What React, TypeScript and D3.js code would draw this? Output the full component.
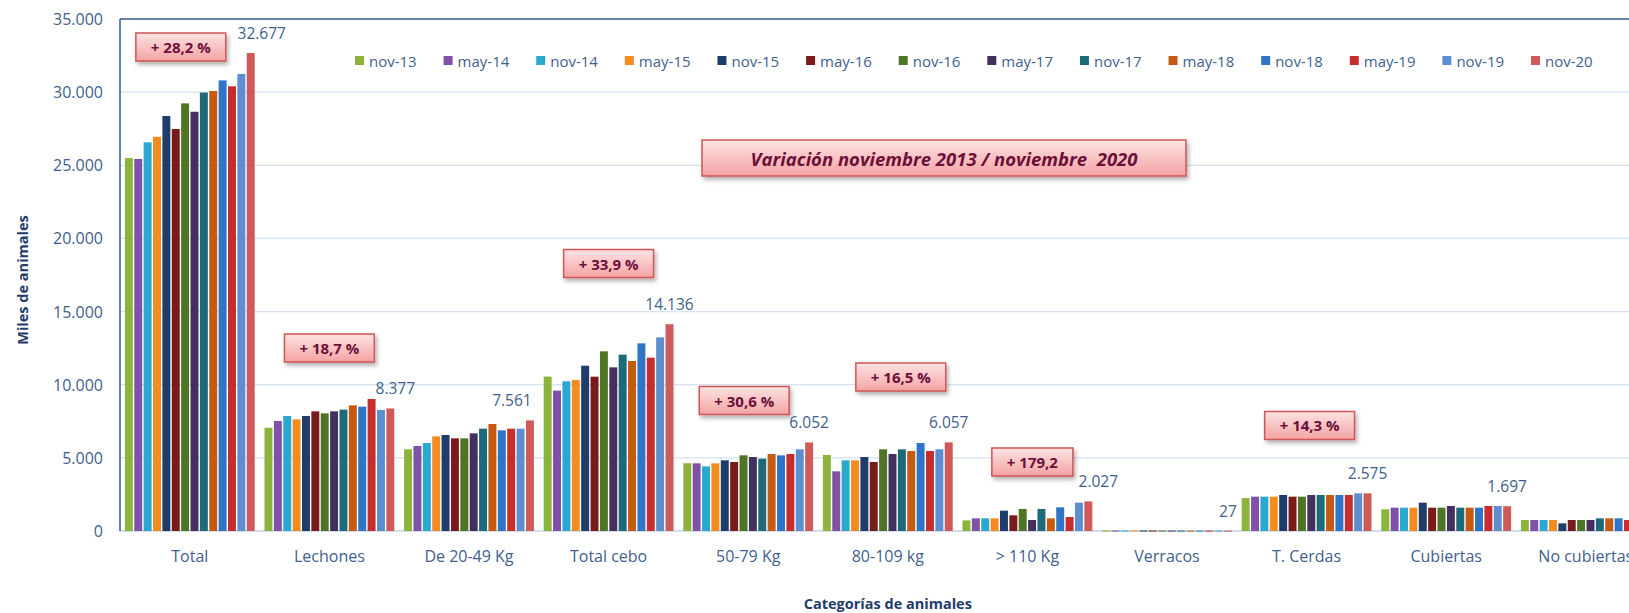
import React, { useEffect, useRef } from "react";
import * as d3 from "d3";

const categories = [
  "Total",
  "Lechones",
  "De 20-49 Kg",
  "Total cebo",
  "50-79 Kg",
  "80-109 kg",
  "> 110 Kg",
  "Verracos",
  "T. Cerdas",
  "Cubiertas",
  "No cubiertas",
];

const periods = [
  "nov-13", "may-14", "nov-14", "may-15", "nov-15", "may-16", "nov-16",
  "may-17", "nov-17", "may-18", "nov-18", "may-19", "nov-19", "nov-20",
];

const periodColors = [
  "#8cb43c", "#7f52a8", "#2ba8cf", "#f58c20", "#1f3d6b", "#7a1b1b", "#4e7526",
  "#44305f", "#1c6a7a", "#c55a11", "#2f75c7", "#c62e2e", "#5b8fd0", "#cf5a5a",
];

// miles de animales, one value per period
const total = [25494, 25430, 26568, 26950, 28367, 27480, 29232, 28660, 29971, 30080, 30804, 30400, 31246, 32677];
const lechones = [7057, 7519, 7861, 7634, 7861, 8180, 8043, 8180, 8294, 8590, 8499, 9023, 8271, 8377];
const de20a49 = [5584, 5810, 6015, 6470, 6562, 6333, 6333, 6676, 6995, 7314, 6881, 6995, 6995, 7561];
const totalCebo = [10557, 9593, 10233, 10322, 11301, 10550, 12282, 11187, 12054, 11621, 12828, 11849, 13238, 14136];
const kg50a79 = [4634, 4625, 4420, 4625, 4831, 4717, 5172, 5058, 4944, 5264, 5172, 5264, 5584, 6052];
const kg80a109 = [5199, 4080, 4831, 4831, 5058, 4717, 5584, 5264, 5584, 5469, 6015, 5469, 5584, 6057];
const mas110 = [726, 866, 866, 866, 1390, 1071, 1504, 752, 1504, 866, 1618, 957, 1937, 2027];
const verracos = [36, 35, 34, 33, 33, 32, 31, 31, 30, 29, 29, 28, 28, 27];
const tCerdas = [2253, 2347, 2347, 2347, 2461, 2347, 2347, 2461, 2461, 2461, 2461, 2461, 2575, 2575];
const cubiertas = [1481, 1595, 1595, 1595, 1937, 1595, 1595, 1709, 1595, 1595, 1595, 1709, 1709, 1697];
const noCubiertas = [752, 752, 752, 752, 524, 752, 752, 752, 866, 866, 866, 752, 866, 878];

const seriesByCategory = [
  total, lechones, de20a49, totalCebo, kg50a79, kg80a109,
  mas110, verracos, tCerdas, cubiertas, noCubiertas,
];

const yTicks = [0, 5000, 10000, 15000, 20000, 25000, 30000, 35000];

// variation boxes: anchored to a category and a value on the y scale
const variations = [
  { cat: "Total", text: "+ 28,2 %", at: 33085, dx: -9 },
  { cat: "Lechones", text: "+ 18,7 %", at: 12510, dx: 0 },
  { cat: "Total cebo", text: "+ 33,9 %", at: 18285, dx: 0 },
  { cat: "50-79 Kg", text: "+ 30,6 %", at: 8920, dx: -4 },
  { cat: "80-109 kg", text: "+ 16,5 %", at: 10527, dx: 13 },
  { cat: "> 110 Kg", text: "+ 179,2", at: 4717, dx: 5 },
  { cat: "T. Cerdas", text: "+ 14,3 %", at: 7212, dx: 3 },
];

// small horizontal shifts of the nov-20 value labels, as placed in the original
const labelShift: Record<string, number> = {
  Total: 11,
  Lechones: 5,
  "De 20-49 Kg": -18,
  "> 110 Kg": 10,
};

const W = 1629;
const H = 613;
const FONT = "'Open Sans', 'Noto Sans', sans-serif";
const TEXT = "#41618c";

export default function App() {
  const svgRef = useRef<SVGSVGElement>(null);

  useEffect(() => {
    const svg = d3.select(svgRef.current);
    svg.selectAll("*").remove();

    const left = 120;
    const top = 19;
    const bottom = 531;
    const step = 139.6;
    const right = left + step * categories.length; // plot runs past the picture edge

    const es = d3.formatLocale({
      decimal: ",",
      thousands: ".",
      grouping: [3],
      currency: ["", ""],
    });
    const fmt = es.format(",d");

    const y = d3.scaleLinear().domain([0, 35000]).range([bottom, top]);
    const x0 = d3
      .scaleBand<string>()
      .domain(categories)
      .range([left, right])
      .paddingInner(0.07)
      .paddingOuter(0.035);
    const x1 = d3
      .scaleBand<string>()
      .domain(periods)
      .range([0, x0.bandwidth()])
      .paddingInner(0.15);
    const color = d3.scaleOrdinal<string, string>().domain(periods).range(periodColors);

    const defs = svg.append("defs");
    const grad = defs
      .append("linearGradient")
      .attr("id", "boxFill")
      .attr("x1", 0)
      .attr("y1", 0)
      .attr("x2", 0)
      .attr("y2", 1);
    grad.append("stop").attr("offset", "0%").attr("stop-color", "#fde3e3");
    grad.append("stop").attr("offset", "100%").attr("stop-color", "#f4a3a3");
    const shadow = defs
      .append("filter")
      .attr("id", "shadow")
      .attr("x", "-20%")
      .attr("y", "-30%")
      .attr("width", "140%")
      .attr("height", "170%");
    shadow
      .append("feDropShadow")
      .attr("dx", 2)
      .attr("dy", 3)
      .attr("stdDeviation", 2)
      .attr("flood-color", "#000")
      .attr("flood-opacity", 0.3);

    svg.append("rect").attr("width", W).attr("height", H).attr("fill", "#fff");

    // gridlines
    svg
      .append("g")
      .selectAll("line")
      .data(yTicks.filter((t) => t > 0 && t < 35000))
      .join("line")
      .attr("x1", left)
      .attr("x2", right)
      .attr("y1", (d) => y(d))
      .attr("y2", (d) => y(d))
      .attr("stroke", "#d6e2ef")
      .attr("stroke-width", 1.3);

    // top border and axes
    svg
      .append("line")
      .attr("x1", left)
      .attr("x2", right)
      .attr("y1", y(35000))
      .attr("y2", y(35000))
      .attr("stroke", "#35598a")
      .attr("stroke-width", 1.5);
    svg
      .append("line")
      .attr("x1", left)
      .attr("x2", right)
      .attr("y1", y(0))
      .attr("y2", y(0))
      .attr("stroke", "#c4d4e6")
      .attr("stroke-width", 1.5);

    // bars
    const groups = svg
      .append("g")
      .selectAll("g")
      .data(categories)
      .join("g")
      .attr("transform", (d) => `translate(${x0(d)},0)`);

    groups
      .selectAll("rect")
      .data((_, i) => seriesByCategory[i].map((v, j) => ({ period: periods[j], v })))
      .join("rect")
      .attr("x", (d) => x1(d.period)!)
      .attr("width", x1.bandwidth())
      .attr("y", (d) => y(d.v))
      .attr("height", (d) => Math.max(1, y(0) - y(d.v)))
      .attr("fill", (d) => color(d.period));

    // value labels for the last period
    const last = periods[periods.length - 1];
    groups
      .append("text")
      .attr("x", (d) => x1(last)! + x1.bandwidth() / 2 + (labelShift[d] || 0))
      .attr("y", (_, i) => y(seriesByCategory[i][periods.length - 1]) - 20)
      .attr("dominant-baseline", "central")
      .attr("text-anchor", "middle")
      .attr("font-family", FONT)
      .attr("font-size", 15.5)
      .attr("fill", TEXT)
      .text((_, i) => fmt(seriesByCategory[i][periods.length - 1]));

    svg
      .append("line")
      .attr("x1", left)
      .attr("x2", left)
      .attr("y1", y(35000))
      .attr("y2", y(0))
      .attr("stroke", "#35598a")
      .attr("stroke-width", 1.5);

    // y tick labels
    svg
      .append("g")
      .selectAll("text")
      .data(yTicks)
      .join("text")
      .attr("x", 103)
      .attr("y", (d) => y(d))
      .attr("text-anchor", "end")
      .attr("dominant-baseline", "central")
      .attr("font-family", FONT)
      .attr("font-size", 16)
      .attr("fill", TEXT)
      .text((d) => fmt(d));

    // category labels
    svg
      .append("g")
      .selectAll("text")
      .data(categories)
      .join("text")
      .attr("x", (d) => x0(d)! + x0.bandwidth() / 2)
      .attr("y", 556)
      .attr("text-anchor", "middle")
      .attr("dominant-baseline", "central")
      .attr("font-family", FONT)
      .attr("font-size", 16)
      .attr("fill", TEXT)
      .text((d) => d);

    // axis titles
    svg
      .append("text")
      .attr("transform", `translate(22,${(top + bottom) / 2 + 5}) rotate(-90)`)
      .attr("text-anchor", "middle")
      .attr("dominant-baseline", "central")
      .attr("font-family", FONT)
      .attr("font-size", 14.5)
      .attr("font-weight", "bold")
      .attr("fill", "#1f3d6b")
      .text("Miles de animales");
    svg
      .append("text")
      .attr("x", (left + right) / 2)
      .attr("y", 603)
      .attr("text-anchor", "middle")
      .attr("dominant-baseline", "central")
      .attr("font-family", FONT)
      .attr("font-size", 14.5)
      .attr("font-weight", "bold")
      .attr("fill", "#1f3d6b")
      .text("Categorías de animales");

    // legend
    const legend = svg.append("g");
    const items = legend.selectAll("g").data(periods).join("g");
    items
      .append("rect")
      .attr("width", 9)
      .attr("height", 9)
      .attr("y", 56)
      .attr("fill", (d) => color(d));
    items
      .append("text")
      .attr("x", 14)
      .attr("y", 61)
      .attr("dominant-baseline", "central")
      .attr("font-family", FONT)
      .attr("font-size", 15)
      .attr("fill", TEXT)
      .text((d) => d);
    const widths: number[] = [];
    items.select("text").each(function () {
      widths.push((this as SVGTextElement).getComputedTextLength());
    });
    const legendStart = 355;
    const legendLastSquare = 1531;
    const used = widths.slice(0, -1).reduce((a, w) => a + 14 + w, 0);
    const gap = (legendLastSquare - legendStart - used) / (periods.length - 1);
    let lx = legendStart;
    items.attr("transform", (_, i) => {
      const t = `translate(${lx},0)`;
      lx += 14 + widths[i] + gap;
      return t;
    });

    // variation boxes
    const boxes = svg
      .append("g")
      .selectAll("g")
      .data(variations)
      .join("g")
      .attr(
        "transform",
        (d) => `translate(${x0(d.cat)! + x0.bandwidth() / 2 + d.dx},${y(d.at)})`
      );
    boxes
      .append("rect")
      .attr("fill", "url(#boxFill)")
      .attr("stroke", "#d05454")
      .attr("stroke-width", 1.5)
      .attr("filter", "url(#shadow)");
    boxes
      .append("text")
      .attr("text-anchor", "middle")
      .attr("dominant-baseline", "central")
      .attr("font-family", FONT)
      .attr("font-size", 15)
      .attr("font-weight", "bold")
      .attr("fill", "#6e0f3a")
      .text((d) => d.text);
    boxes.each(function () {
      const g = d3.select(this);
      const w = (g.select("text").node() as SVGTextElement).getComputedTextLength() + 30;
      g.select("rect").attr("x", -w / 2).attr("y", -14).attr("width", w).attr("height", 28);
    });

    // headline box
    const head = svg.append("g").attr("transform", "translate(944,158)");
    head
      .append("rect")
      .attr("x", -242)
      .attr("y", -18)
      .attr("width", 484)
      .attr("height", 36)
      .attr("fill", "url(#boxFill)")
      .attr("stroke", "#d05454")
      .attr("stroke-width", 1.5)
      .attr("filter", "url(#shadow)");
    head
      .append("text")
      .attr("text-anchor", "middle")
      .attr("dominant-baseline", "central")
      .attr("font-family", FONT)
      .attr("font-size", 18.5)
      .attr("font-weight", "bold")
      .attr("font-style", "italic")
      .attr("fill", "#6e0f3a")
      .style("white-space", "pre")
      .text("Variación noviembre 2013 / noviembre  2020");
  }, []);

  return (
    <svg
      ref={svgRef}
      width={W}
      height={H}
      style={{ position: "absolute", left: 0, top: 0, display: "block" }}
    />
  );
}
